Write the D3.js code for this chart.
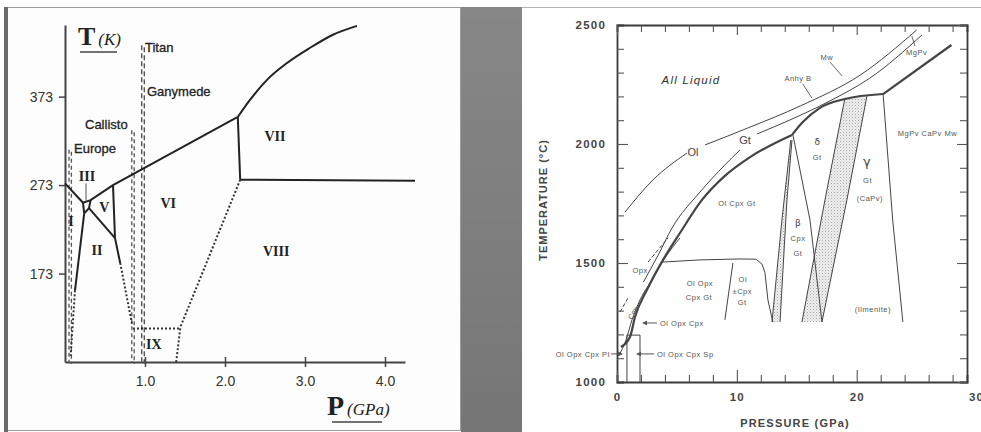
<!DOCTYPE html>
<html>
<head>
<meta charset="utf-8">
<script src="https://cdn.jsdelivr.net/npm/d3@7"></script>
<style>
body { margin: 0; background: #fff; }
svg { display: block; }
</style>
</head>
<body>
<svg width="981" height="432"></svg>
<script>
// ---------- left: ice phase diagram (P in GPa, T in K)
var iceTicksT = [173, 273, 373];
var iceTicksP = [1.0, 2.0, 3.0, 4.0];

var meltI = [[0, 275], [0.225, 253]];
var meltMid = [[0.225, 253], [0.32, 256], [0.6, 273], [2.16, 350]];
var meltVII = [[2.16, 350], [2.31, 369], [2.525, 392], [2.775, 411], [3.06, 428], [3.35, 443], [3.65, 453]];

// solid phase boundaries
var iceSolid = [
  [[0.225, 253], [0.24, 241]],
  [[0.32, 256], [0.30, 247]],
  [[0.24, 241], [0.30, 247]],
  [[0.30, 247], [0.625, 213]],
  [[0.6, 273], [0.625, 213]],
  [[0.24, 241], [0.125, 154]],
  [[0.625, 213], [0.69, 185]],
  [[2.16, 350], [2.19, 279]],
  [[2.19, 279], [4.375, 278]]
];
// dotted (metastable / extrapolated) boundaries
var iceDotted = [
  [[0.125, 154], [0.07, 80]],
  [[0.69, 185], [0.84, 115]],
  [[2.19, 279], [1.44, 112]],
  [[0.85, 111], [1.44, 111]],
  [[1.44, 111], [1.39, 73]]
];
var leaderIII = [[0.2625, 275], [0.2625, 254]];

var phaseNames = ["I", "II", "III", "V", "VI", "VII", "VIII", "IX"];
var phasePos = [[0.075, 233], [0.4, 200], [0.275, 283], [0.49, 248], [1.29, 253], [2.625, 328], [2.64, 198], [1.11, 93]];

// moons: pressure of the dashed line, its top temperature, label anchor
var moonNames = ["Europe", "Callisto", "Titan", "Ganymede"];
var moonP = [0.065, 0.85, 0.975];
var moonTop = [313, 335, 431];
var moonLabelPos = [[0.1125, 315], [0.25, 342], [1.0, 429], [1.025, 379]];

// ---------- right: mantle peridotite (P in GPa, T in deg C)
var mantleLabelT = [1000, 1500, 2000, 2500];
var mantleLabelP = [0, 10, 20, 30];

var olLiqLow = [[0.67, 1714], [3.0, 1849], [5.84, 1962]];
var olLiqHigh = [[7.34, 1996], [11.1, 2071], [15.3, 2160], [20.3, 2290], [25.0, 2479]];
var gtLiqLow = [[2.2, 1420], [3.4, 1530], [4.59, 1647], [6.92, 1798], [9.0, 1912], [10.26, 1975]];
var gtLiqHigh = [[11.68, 2042], [14.43, 2101], [17.76, 2181], [21.1, 2277], [25.44, 2458]];
var solidusLow = [[0.33, 1147], [1.08, 1189], [1.5, 1273], [2.5, 1387], [3.84, 1513], [5.25, 1626], [7.09, 1765], [9.0, 1866], [11.1, 1945], [14.6, 2038]];
var solidusMid = [[14.6, 2038], [15.5, 2092], [16.9, 2151], [19.0, 2189], [22.2, 2210]];
var solidusHigh = [[22.2, 2210], [27.9, 2416]];
var cpxOut = [[0.17, 1113], [0.75, 1176], [1.25, 1261], [1.92, 1345], [2.92, 1429], [4.0, 1521], [5.25, 1605]];
var opxLow = [[0.25, 1294], [0.92, 1353]];
var opxHigh = [[2.59, 1504], [4.25, 1605]];
var plBox = [[0.83, 1000], [0.83, 1197], [1.92, 1197], [1.92, 1000]];
var gtIn = [[3.84, 1504], [6.92, 1513], [10.26, 1517], [11.6, 1516], [12.1, 1495], [12.34, 1460], [12.59, 1345], [13.0, 1252]];
var sepLine = [[9.67, 1500], [9.0, 1261]];
var narrowL = [[14.5, 2017], [13.76, 1681], [12.93, 1252]];
var narrowR = [[14.6, 2017], [14.18, 1765], [13.6, 1252]];
var betaLine = [[14.68, 2038], [16.1, 1681], [17.1, 1252]];
var wideL = [[19.0, 2189], [17.35, 1765], [15.43, 1252]];
var wideR = [[20.85, 2201], [19.18, 1765], [17.1, 1252]];
var gammaLine = [[22.2, 2210], [23.0, 1681], [23.85, 1252]];

var smallLabels = ["Ol Cpx Gt", "Mw", "Anhy B", "MgPv", "Gt", "MgPv CaPv Mw", "Gt", "(CaPv)", "Cpx", "Gt",
                   "(Ilmenite)", "Ol Opx", "Cpx Gt", "Ol", "\u00b1Cpx", "Gt", "Opx"];
var smallPos = [[10.0, 1752], [17.5, 2366], [15.1, 2277], [25.0, 2387], [16.7, 1945], [25.9, 2046], [20.9, 1849], [21.1, 1773], [15.1, 1605], [15.1, 1542],
                [21.35, 1307], [6.92, 1416], [6.84, 1357], [10.5, 1433], [10.45, 1382], [10.45, 1336], [1.92, 1471]];
var greekLabels = ["\u03b4", "\u03b3", "\u03b2"];
var greekPos = [[16.7, 2008], [20.85, 1926], [15.1, 1668]];
var curveLabels = ["Ol", "Gt"];
var curveLabelPos = [[6.34, 1966], [10.68, 2017]];
var leaders = [[[17.76, 2345], [18.77, 2286]], [[15.5, 2252], [16.26, 2193]], [[24.85, 2412], [24.6, 2454]]];
// arrow labels: text, label anchor, arrow from, arrow to
var arrowNames = ["Ol Opx Cpx", "Ol Opx Cpx Sp", "Ol Opx Cpx Pl"];
var arrowText = [[3.59, 1248], [3.34, 1118], [-0.6, 1118]];
var arrowFrom = [[3.34, 1248], [3.09, 1118], [-0.5, 1118]];
var arrowTo = [[2.17, 1248], [1.67, 1118], [0.42, 1118]];

var svg = d3.select("svg");
var defs = svg.append("defs");

// ---------- page background and panels
svg.append("rect").attr("width", 981).attr("height", 432).attr("fill", "#fff");
var grad = defs.append("linearGradient").attr("id", "band").attr("x1", 0).attr("y1", 0).attr("x2", 0).attr("y2", 1);
grad.append("stop").attr("offset", "0%").attr("stop-color", "#878787");
grad.append("stop").attr("offset", "100%").attr("stop-color", "#767676");
svg.append("rect").attr("x", 461).attr("y", 7).attr("width", 61).attr("height", 425).attr("fill", "url(#band)");
svg.append("rect").attr("x", 6.5).attr("y", 7.5).attr("width", 454).attr("height", 423)
    .attr("fill", "#fdfdfd").attr("stroke", "#9c9c9c");
svg.append("rect").attr("x", 4).attr("y", 7).attr("width", 4).attr("height", 425).attr("fill", "#6b6b6b");
svg.append("line").attr("x1", 522).attr("x2", 981).attr("y1", 7.5).attr("y2", 7.5).attr("stroke", "#b5b5b5");

var hatch = defs.append("pattern").attr("id", "hatch").attr("patternUnits", "userSpaceOnUse")
    .attr("width", 3).attr("height", 3);
hatch.append("rect").attr("width", 3).attr("height", 3).attr("fill", "#efefef");
hatch.append("rect").attr("width", 1).attr("height", 1).attr("fill", "#a5a5a5");
hatch.append("rect").attr("x", 1.5).attr("y", 1.5).attr("width", 1).attr("height", 1).attr("fill", "#c4c4c4");

defs.append("marker").attr("id", "arr").attr("viewBox", "0 0 6 6").attr("refX", 5).attr("refY", 3)
    .attr("markerWidth", 5).attr("markerHeight", 5).attr("orient", "auto")
  .append("path").attr("d", "M0,0L6,3L0,6Z").attr("fill", "#555");

// ================= LEFT CHART =================
var x = d3.scaleLinear().domain([0, 4.25]).range([65, 405]);
var y = d3.scaleLinear().domain([73, 454]).range([362, 25]);
var line = d3.line().x(function(d) { return x(d[0]); }).y(function(d) { return y(d[1]); });

var g = svg.append("g");

var yAx = g.append("g").attr("transform", "translate(" + x(0) + ",0)")
    .call(d3.axisLeft(y).tickValues(iceTicksT).tickSize(6).tickSizeOuter(0).tickPadding(6));
var xAx = g.append("g").attr("transform", "translate(0," + y(73) + ")")
    .call(d3.axisBottom(x).tickValues(iceTicksP).tickSize(5).tickSizeOuter(0).tickPadding(9).tickFormat(d3.format(".1f")));
xAx.selectAll(".tick line").attr("y1", -5);
[yAx, xAx].forEach(function(a) {
  a.select(".domain").attr("stroke", "#444").attr("stroke-width", 2);
  a.selectAll(".tick line").attr("stroke", "#444").attr("stroke-width", 1.5);
  a.selectAll("text").attr("fill", "#333").style("font", "14px 'Liberation Sans Narrow', 'Liberation Sans', sans-serif")
    .style("font-stretch", "condensed");
});

// axis titles
var tT = g.append("text").attr("x", 78).attr("y", 45).attr("fill", "#222");
tT.append("tspan").text("T").style("font", "bold 26px 'Liberation Serif', serif");
tT.append("tspan").text("(K)").attr("dx", 3).style("font", "italic 17px 'Liberation Serif', serif");
g.append("line").attr("x1", 80).attr("x2", 117).attr("y1", 52).attr("y2", 52).attr("stroke", "#444").attr("stroke-width", 1.5);
var tP = g.append("text").attr("x", 327).attr("y", 415).attr("fill", "#222");
tP.append("tspan").text("P").style("font", "bold 28px 'Liberation Serif', serif");
tP.append("tspan").text("(GPa)").attr("dx", 3).style("font", "italic 17px 'Liberation Serif', serif");
g.append("line").attr("x1", 332).attr("x2", 382).attr("y1", 422).attr("y2", 422).attr("stroke", "#444").attr("stroke-width", 1.5);

// moon lines
moonP.forEach(function(p, i) {
  var pts = [[p, moonTop[i]], [p, 73]];
  if (i === 2) {
    g.append("path").attr("d", line(pts)).attr("transform", "translate(-1.3,0)")
      .attr("fill", "none").attr("stroke", "#555").attr("stroke-width", 1.4).attr("stroke-dasharray", "5,3");
    g.append("path").attr("d", line(pts)).attr("transform", "translate(1.3,2)")
      .attr("fill", "none").attr("stroke", "#555").attr("stroke-width", 1.4).attr("stroke-dasharray", "5,3");
  } else {
    g.append("path").attr("d", line(pts)).attr("transform", "translate(-1.2,0)")
      .attr("fill", "none").attr("stroke", "#555").attr("stroke-width", 1.3).attr("stroke-dasharray", "4,3");
    g.append("path").attr("d", line(pts)).attr("transform", "translate(1.2,2)")
      .attr("fill", "none").attr("stroke", "#555").attr("stroke-width", 1.3).attr("stroke-dasharray", "4,3");
  }
});
g.selectAll(".moon").data(moonNames).enter().append("text").attr("class", "moon")
    .attr("x", function(d, i) { return x(moonLabelPos[i][0]); })
    .attr("y", function(d, i) { return y(moonLabelPos[i][1]); })
    .attr("dy", "0.36em").attr("fill", "#222").attr("stroke", "#222").attr("stroke-width", 0.3)
    .style("font", "13px 'Liberation Sans', Arial, sans-serif")
    .text(function(d) { return d; });

// phase boundaries
g.append("path").attr("d", line(meltI)).attr("fill", "none").attr("stroke", "#222").attr("stroke-width", 2);
g.append("path").attr("d", line(meltMid)).attr("fill", "none").attr("stroke", "#222").attr("stroke-width", 2);
g.append("path").attr("d", line.curve(d3.curveMonotoneX)(meltVII)).attr("fill", "none").attr("stroke", "#222").attr("stroke-width", 2);
line.curve(d3.curveLinear);
g.selectAll(".solid").data(iceSolid).enter().append("path").attr("class", "solid")
    .attr("d", line).attr("fill", "none").attr("stroke", "#222").attr("stroke-width", 2);
g.selectAll(".dotted").data(iceDotted).enter().append("path").attr("class", "dotted")
    .attr("d", line).attr("fill", "none").attr("stroke", "#333").attr("stroke-width", 2).attr("stroke-dasharray", "2,2");
g.append("path").attr("d", line(leaderIII)).attr("stroke", "#555").attr("stroke-width", 1);

g.selectAll(".phase").data(phaseNames).enter().append("text").attr("class", "phase")
    .attr("x", function(d, i) { return x(phasePos[i][0]); })
    .attr("y", function(d, i) { return y(phasePos[i][1]); })
    .attr("dy", "0.36em").attr("text-anchor", "middle").attr("fill", "#222")
    .style("font", "bold 14px 'Liberation Serif', serif")
    .text(function(d) { return d; });

// ================= RIGHT CHART =================
var xR = d3.scaleLinear().domain([0, 29.2]).range([617, 967]);
var yR = d3.scaleLinear().domain([1000, 2500]).range([382, 25]);
var lineR = d3.line().x(function(d) { return xR(d[0]); }).y(function(d) { return yR(d[1]); });
var smooth = d3.line().curve(d3.curveMonotoneX).x(function(d) { return xR(d[0]); }).y(function(d) { return yR(d[1]); });
var r = svg.append("g");

// hatched transition bands
r.append("path").attr("d", lineR(narrowL.concat(narrowR.slice().reverse())) + "Z").attr("fill", "url(#hatch)");
r.append("path").attr("d", lineR(wideL.concat(wideR.slice().reverse())) + "Z").attr("fill", "url(#hatch)");

var yMinor = yR.ticks(15), xMinor = xR.ticks(15);
var axL = r.append("g").attr("transform", "translate(" + xR(0) + ",0)")
    .call(d3.axisLeft(yR).tickValues(yMinor).tickSize(-7).tickPadding(11)
      .tickFormat(function(d) { return mantleLabelT.indexOf(d) >= 0 ? d : ""; }));
axL.selectAll(".tick line").filter(function(d) { return d % 500 === 0; }).attr("x2", 11);
var axB = r.append("g").attr("transform", "translate(0," + yR(1000) + ")")
    .call(d3.axisBottom(xR).tickValues(xMinor).tickSize(-7).tickPadding(11)
      .tickFormat(function(d) { return mantleLabelP.indexOf(d) >= 0 ? d : ""; }));
axB.selectAll(".tick line").filter(function(d) { return d % 10 === 0; }).attr("y2", -12);
var axT = r.append("g").attr("transform", "translate(0," + yR(2500) + ")")
    .call(d3.axisTop(xR).tickValues(xMinor).tickSize(-7).tickFormat(""));
axT.selectAll(".tick line").filter(function(d) { return d % 10 === 0; }).attr("y2", 10);
var axRt = r.append("g").attr("transform", "translate(" + xR(29.2) + ",0)")
    .call(d3.axisRight(yR).tickValues(yMinor).tickSize(-7).tickFormat(""));
axRt.selectAll(".tick line").filter(function(d) { return d % 500 === 0; }).attr("x2", -10);
[axL, axB, axT, axRt].forEach(function(a) {
  a.select(".domain").attr("stroke", "#3a3a3a").attr("stroke-width", 1.8);
  a.selectAll(".tick line").attr("stroke", "#555").attr("stroke-width", 1.1);
  a.selectAll("text").attr("fill", "#444").style("font", "bold 11.5px 'Liberation Sans', Arial, sans-serif")
    .style("letter-spacing", "1.2px");
});
r.append("text").attr("x", xR(30)).attr("y", yR(1000) + 11).attr("dy", "0.71em").attr("text-anchor", "middle")
    .attr("fill", "#444").style("font", "bold 11.5px 'Liberation Sans', Arial, sans-serif").style("letter-spacing", "1.2px")
    .text(mantleLabelP[3]);

r.append("text").attr("x", 795).attr("y", 427).attr("text-anchor", "middle").attr("fill", "#444")
    .style("font", "bold 11px 'Liberation Sans', Arial, sans-serif").style("letter-spacing", "1.2px")
    .text("PRESSURE (GPa)");
r.append("text").attr("transform", "translate(547,200) rotate(-90)").attr("text-anchor", "middle").attr("fill", "#444")
    .style("font", "bold 11px 'Liberation Sans', Arial, sans-serif").style("letter-spacing", "1px")
    .text("TEMPERATURE (\u00b0C)");

// phase boundaries
function thin(d, w, dash) {
  var p = r.append("path").attr("d", d).attr("fill", "none").attr("stroke", "#444").attr("stroke-width", w);
  if (dash) p.attr("stroke-dasharray", dash);
  return p;
}
thin(smooth(olLiqLow), 1);
thin(smooth(olLiqHigh), 1);
thin(smooth(gtLiqLow), 1);
thin(smooth(gtLiqHigh), 1);
thin(smooth(cpxOut), 1);
thin(lineR(opxLow), 1, "4,2");
thin(lineR(opxHigh), 1, "4,2");
thin(smooth(solidusLow), 2.2);
thin(smooth(solidusMid), 2.2);
thin(lineR(solidusHigh), 2.2);
thin(lineR(plBox), 1);
thin(lineR(gtIn), 1);
thin(lineR(sepLine), 1);
[narrowL, narrowR, betaLine, wideL, wideR, gammaLine].forEach(function(d) { thin(lineR(d), 1); });
leaders.forEach(function(d) { thin(lineR(d), 0.8); });

// labels
r.append("text").attr("x", xR(6.17)).attr("y", yR(2269)).attr("dy", "0.36em").attr("text-anchor", "middle")
    .attr("fill", "#333").style("font", "italic 11.5px 'Liberation Sans', Arial, sans-serif").style("letter-spacing", "1.2px")
    .text("All Liquid");
r.selectAll(".cl").data(curveLabels).enter().append("text").attr("class", "cl")
    .attr("x", function(d, i) { return xR(curveLabelPos[i][0]); })
    .attr("y", function(d, i) { return yR(curveLabelPos[i][1]); })
    .attr("dy", "0.36em").attr("text-anchor", "middle").attr("fill", "#444")
    .style("font", "11px 'Liberation Sans', Arial, sans-serif").text(function(d) { return d; });
r.selectAll(".sl").data(smallLabels).enter().append("text").attr("class", "sl")
    .attr("x", function(d, i) { return xR(smallPos[i][0]); })
    .attr("y", function(d, i) { return yR(smallPos[i][1]); })
    .attr("dy", "0.36em").attr("text-anchor", "middle").attr("fill", "#555")
    .style("font", "7.5px 'Liberation Sans', Arial, sans-serif").style("letter-spacing", "0.5px")
    .text(function(d) { return d; });
r.selectAll(".gl").data(greekLabels).enter().append("text").attr("class", "gl")
    .attr("x", function(d, i) { return xR(greekPos[i][0]); })
    .attr("y", function(d, i) { return yR(greekPos[i][1]); })
    .attr("dy", "0.36em").attr("text-anchor", "middle").attr("fill", "#444")
    .style("font", function(d, i) { return (i === 1 ? "13px" : "9px") + " 'DejaVu Sans', sans-serif"; })
    .text(function(d) { return d; });
r.append("text").attr("transform", "translate(" + xR(1.33) + "," + yR(1290) + ") rotate(-62)")
    .attr("dy", "0.36em").attr("text-anchor", "middle").attr("fill", "#555")
    .style("font", "7.5px 'Liberation Sans', Arial, sans-serif").text("Cpx");

arrowNames.forEach(function(name, i) {
  r.append("text").attr("x", xR(arrowText[i][0])).attr("y", yR(arrowText[i][1])).attr("dy", "0.36em")
      .attr("text-anchor", i === 2 ? "end" : "start").attr("fill", "#555")
      .style("font", "7.5px 'Liberation Sans', Arial, sans-serif").style("letter-spacing", "0.5px")
      .text(name);
  r.append("path").attr("d", lineR([arrowFrom[i], arrowTo[i]])).attr("stroke", "#555").attr("stroke-width", 1)
      .attr("marker-end", "url(#arr)");
});
</script>
</body>
</html>
